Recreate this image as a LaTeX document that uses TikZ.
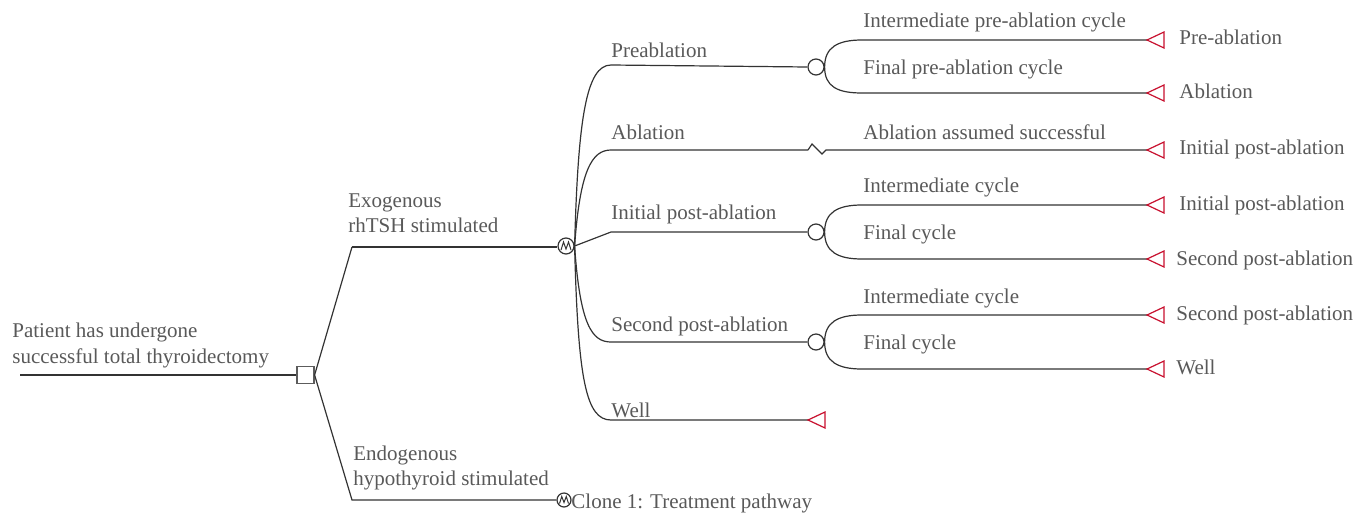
\documentclass[tikz,border=0pt]{standalone}
\usepackage{fontspec}
\setmainfont{Liberation Serif}
\usetikzlibrary{positioning}
\definecolor{txtgray}{HTML}{595959}
\definecolor{linegray}{HTML}{333333}
\definecolor{termred}{HTML}{C8102E}

\tikzset{
  lbl/.style={anchor=base west, inner sep=0pt, text=txtgray, font=\fontsize{10.5}{12}\selectfont},
  branch/.style={line width=0.6pt, draw=linegray},
  chance/.style={circle, draw=linegray, line width=0.6pt, minimum size=8pt, inner sep=0pt},
  markov/.style={circle, draw=linegray, line width=0.6pt, minimum size=#1, inner sep=0pt},
  decision/.style={rectangle, draw=linegray!80, line width=0.6pt, minimum size=8.5pt, inner sep=0pt},
  terminal/.style={draw=termred, line width=0.6pt, line join=miter},
}

\begin{document}
\begin{tikzpicture}[x=0.5pt, y=-0.5pt]
\useasboundingbox (0,0) rectangle (1368,514);

% nodes of the tree
\coordinate (start) at (20,375);
\node[decision] (dec) at (305.5,375) {};
\coordinate (exo) at (352,247);
\coordinate (endo) at (352,500);
\node[markov=8pt] (mk) at (566,246) {};
\node[markov=7pt] (cl) at (564,500) {};
\draw[linegray, line width=0.5pt] (mk.center) ++(-5,4) -- ++(2.5,-8) -- ++(2.5,7) -- ++(2.5,-7) -- ++(2.5,8);
\draw[linegray, line width=0.5pt] (cl.center) ++(-4.5,3.5) -- ++(2.25,-7) -- ++(2.25,6) -- ++(2.25,-6) -- ++(2.25,7);

\coordinate (pre) at (611,65);
\coordinate (abl) at (611,150);
\coordinate (ini) at (611,232);
\coordinate (sec) at (611,342);
\coordinate (well) at (611,420);
\node[chance] (cpre) at (816,67) {};
\node[chance] (cini) at (816,232) {};
\node[chance] (csec) at (816,342) {};
\coordinate (zz) at (808,150);

\coordinate (t1) at (1147,40);
\coordinate (t2) at (1147,93);
\coordinate (t3) at (1147,150);
\coordinate (t4) at (1147,205);
\coordinate (t5) at (1147,259);
\coordinate (t6) at (1147,315);
\coordinate (t7) at (1147,369);
\coordinate (tw) at (808,420);

% connectors
\draw[branch] (start) -- (dec.west);
\draw[branch] (dec.east) -- (exo);
\draw[branch] (dec.east) -- (endo) -- (cl.west);
\draw[linegray, line width=1.3pt] (exo) -- (mk.west |- exo);

\draw[branch] (mk.east) .. controls (578,120) and (586,65) .. (pre) -- (cpre.west);
\draw[branch] (mk.east) .. controls (580,170) and (592,150) .. (abl) -- (zz);
\draw[branch] (zz) -- ++(4,-6) -- ++(10,10) -- ++(4,-4) -- (t3);
\draw[branch] (mk.east) -- (ini) -- (cini.west);
\draw[branch] (mk.east) .. controls (580,325) and (592,342) .. (sec) -- (csec.west);
\draw[branch] (mk.east) .. controls (578,380) and (586,420) .. (well) -- (tw);

\draw[branch] (cpre.east) .. controls +(0,-20) and (838,40) .. (862,40) -- (t1);
\draw[branch] (cpre.east) .. controls +(0,20) and (838,93) .. (862,93) -- (t2);
\draw[branch] (cini.east) .. controls +(0,-20) and (838,205) .. (862,205) -- (t4);
\draw[branch] (cini.east) .. controls +(0,20) and (838,259) .. (862,259) -- (t5);
\draw[branch] (csec.east) .. controls +(0,-20) and (838,315) .. (862,315) -- (t6);
\draw[branch] (csec.east) .. controls +(0,20) and (838,369) .. (862,369) -- (t7);

\foreach \t in {t1,t2,t3,t4,t5,t6,t7,tw}
  \draw[terminal] (\t) -- ++(17,-8) -- ++(0,16) -- cycle;

% labels
\node[lbl] (l-root1) at (12,337) {Patient has undergone};
\node[lbl] (l-root2) at (12,363) {successful total thyroidectomy};
\node[lbl] (l-exo1) at (348,207) {Exogenous};
\node[lbl] (l-exo2) at (348,232) {rhTSH stimulated};
\node[lbl] (l-endo1) at (353,460) {Endogenous};
\node[lbl] (l-endo2) at (353,485) {hypothyroid stimulated};
\node[lbl] (l-clone) at (571,508) {Clone 1: Treatment pathway};

\node[lbl] (l-pre) at (611,57) {Preablation};
\node[lbl] (l-abl) at (611,139) {Ablation};
\node[lbl] (l-ini) at (611,219) {Initial post-ablation};
\node[lbl] (l-sec) at (611,331) {Second post-ablation};
\node[lbl] (l-well) at (611,417) {Well};

\node[lbl] (l-c1) at (863,27) {Intermediate pre-ablation cycle};
\node[lbl] (l-c2) at (863,74) {Final pre-ablation cycle};
\node[lbl] (l-c3) at (863,139) {Ablation assumed successful};
\node[lbl] (l-c4) at (863,192) {Intermediate cycle};
\node[lbl] (l-c5) at (863,239) {Final cycle};
\node[lbl] (l-c6) at (863,303) {Intermediate cycle};
\node[lbl] (l-c7) at (863,349) {Final cycle};

\node[lbl] (l-t1) at (1179,44) {Pre-ablation};
\node[lbl] (l-t2) at (1179,98) {Ablation};
\node[lbl] (l-t3) at (1179,154) {Initial post-ablation};
\node[lbl] (l-t4) at (1179,210) {Initial post-ablation};
\node[lbl] (l-t5) at (1176,265) {Second post-ablation};
\node[lbl] (l-t6) at (1176,320) {Second post-ablation};
\node[lbl] (l-t7) at (1176,374) {Well};
\end{tikzpicture}
\end{document}
